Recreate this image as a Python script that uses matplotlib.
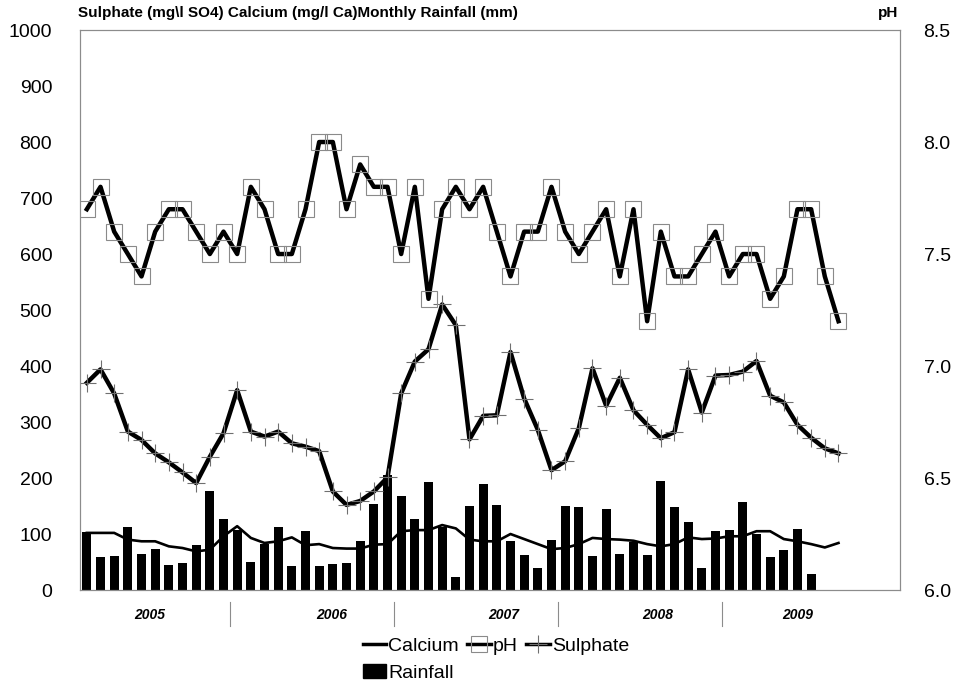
import numpy as np
import pandas as pd
from matplotlib import pyplot as plt
from matplotlib import transforms
from matplotlib.lines import Line2D
from matplotlib.patches import Patch

plt.rcParams['font.family'] = ['Liberation Sans', 'DejaVu Sans']

# monthly samples, Feb 2005 - Sep 2009
months = pd.date_range("2005-02-01", periods=56, freq="MS")

sulphate = [370, 394, 351, 283, 268, 244, 228, 210, 191, 238, 280, 357, 283, 274,
            283, 262, 256, 248, 176, 152, 159, 176, 201, 351, 408, 430, 510, 473,
            269, 311, 312, 425, 342, 286, 214, 230, 289, 396, 329, 379, 321, 295,
            271, 282, 394, 317, 383, 384, 390, 409, 347, 335, 295, 272, 253, 244]
calcium = [102, 102, 102, 90, 87, 87, 78, 75, 69, 72, 96, 114, 93, 84,
           87, 94, 80, 82, 75, 74, 74, 81, 82, 105, 107, 107, 116, 110,
           90, 87, 87, 100, 91, 82, 73, 75, 82, 93, 91, 90, 88, 82,
           78, 82, 94, 91, 92, 96, 96, 105, 105, 91, 87, 82, 76, 84]
ph = [7.7, 7.8, 7.6, 7.5, 7.4, 7.6, 7.7, 7.7, 7.6, 7.5, 7.6, 7.5, 7.8, 7.7,
      7.5, 7.5, 7.7, 8.0, 8.0, 7.7, 7.9, 7.8, 7.8, 7.5, 7.8, 7.3, 7.7, 7.8,
      7.7, 7.8, 7.6, 7.4, 7.6, 7.6, 7.8, 7.6, 7.5, 7.6, 7.7, 7.4, 7.7, 7.2,
      7.6, 7.4, 7.4, 7.5, 7.6, 7.4, 7.5, 7.5, 7.3, 7.4, 7.7, 7.7, 7.4, 7.2]
rainfall = [103, 59, 60, 112, 64, 74, 45, 48, 80, 176, 127, 108, 50, 82,
            112, 42, 105, 42, 46, 49, 87, 154, 206, 167, 127, 193, 113, 24,
            150, 190, 151, 87, 62, 40, 89, 150, 149, 61, 144, 65, 85, 63,
            194, 149, 121, 39, 105, 107, 157, 100, 59, 72, 109, 29]

years = ["2005", "2006", "2007", "2008", "2009"]
year_label_x = [4.6, 17.9, 30.5, 41.8, 52.0]

x = np.arange(len(months))
# boundaries between calendar years on the category axis
year_breaks = [i - 0.5 for i in range(1, len(months)) if months[i].year != months[i - 1].year]

fig = plt.figure(figsize=(9.56, 6.84), dpi=100)
ax = fig.add_axes([0.0837, 0.1374, 0.8577, 0.8187])
ax2 = ax.twinx()

ax.bar(x[:len(rainfall)], rainfall, width=0.68, color="black", zorder=1)
ax.plot(x, calcium, color="black", lw=1.9, zorder=2)
ax.plot(x, sulphate, color="black", lw=3.2, marker="+", ms=13, mec="#6f6f6f",
        mew=0.8, zorder=3)
ax2.plot(x, ph, color="black", lw=3.2, marker="s", ms=11.5, mfc="none",
         mec="#8a8a8a", mew=0.8, zorder=3)

ax.set_xlim(-0.5, 59.5)
ax.set_ylim(0, 1000)
ax.set_yticks(range(0, 1001, 100))
ax2.set_ylim(6.0, 8.5)
ax2.set_yticks([6.0, 6.5, 7.0, 7.5, 8.0, 8.5])
ax2.set_yticklabels([f"{v:.1f}" for v in ax2.get_yticks()])
ax.set_xticks([])
ax.tick_params(axis="y", length=0, labelsize=14, pad=20)
ax2.tick_params(axis="y", length=0, labelsize=14, pad=17)

for a in (ax, ax2):
    for s in a.spines.values():
        s.set_color("#8c8c8c")
        s.set_linewidth(0.8)

# year group separators and labels under the axis
trans = transforms.blended_transform_factory(ax.transData, ax.transAxes)
for b in year_breaks:
    ax.plot([b, b], [-0.022, -0.064], transform=trans, color="#8c8c8c",
            lw=0.8, clip_on=False)
for xl, yr in zip(year_label_x, years):
    ax.text(xl, -0.045, yr, transform=trans, ha="center", va="center",
            fontsize=10, fontweight="bold", fontstyle="italic")

fig.text(78 / 956, 1 - 13 / 684,
         "Sulphate (mg\\l SO4) Calcium (mg/l Ca)Monthly Rainfall (mm)",
         fontsize=11, fontweight="bold", va="center")
fig.text(878 / 956, 1 - 13 / 684, "pH", fontsize=11, fontweight="bold", va="center")

handles = [
    Line2D([], [], color="black", lw=2.5),
    Patch(facecolor="black", edgecolor="black"),
    Line2D([], [], color="black", lw=2.5, marker="s", ms=11, mfc="none",
           mec="#8a8a8a", mew=0.8),
    Line2D([], [], color="black", lw=2.5, marker="+", ms=13, mec="#6f6f6f", mew=0.8),
]
labels = ["Calcium", "Rainfall", "pH", "Sulphate"]
fig.legend(handles, labels, ncol=3, loc="upper left",
           bbox_to_anchor=(351 / 956, 1 - 626 / 684), frameon=False,
           fontsize=14, handlelength=1.2, handletextpad=0.1,
           columnspacing=0.45, labelspacing=0.45, borderpad=0.1)

fig.savefig("out.png", dpi=100)
